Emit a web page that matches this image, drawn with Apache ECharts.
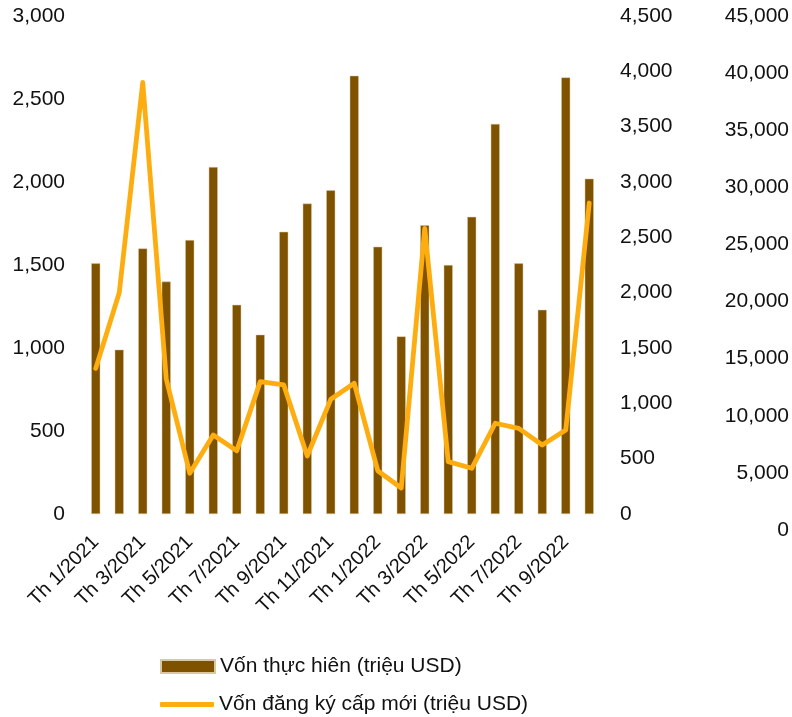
<!DOCTYPE html>
<html>
<head>
<meta charset="utf-8">
<script src="https://cdn.jsdelivr.net/npm/echarts@6/dist/echarts.min.js"></script>
<style>
html,body{margin:0;padding:0;background:#fff;}
#chart{width:792px;height:717px;}
</style>
</head>
<body>
<div id="chart"></div>
<script>
const categories = ['Th 1/2021','Th 2/2021','Th 3/2021','Th 4/2021','Th 5/2021','Th 6/2021','Th 7/2021','Th 8/2021','Th 9/2021','Th 10/2021','Th 11/2021','Th 12/2021',
  'Th 1/2022','Th 2/2022','Th 3/2022','Th 4/2022','Th 5/2022','Th 6/2022','Th 7/2022','Th 8/2022','Th 9/2022','Th 10/2022'];
const vonThucHien = [1510, 990, 1600, 1400, 1650, 2090, 1260, 1080, 1700, 1870, 1950, 2640,
  1610, 1070, 1740, 1500, 1790, 2350, 1510, 1230, 2630, 2020];
const vonDangKy = [1316, 2000, 3900, 1220, 368, 714, 572, 1196, 1166, 524, 1036, 1181,
  391, 235, 2580, 473, 413, 820, 774, 623, 759, 2810];
const seriesNames = ['Vốn thực hiên (triệu USD)', 'Vốn đăng ký cấp mới (triệu USD)'];

const FONT = "'Liberation Sans', Arial, sans-serif";
const chart = echarts.init(document.getElementById('chart'));
const numFmt = v => v.toLocaleString('en-US');
const legendText = { fontFamily: FONT, fontSize: 21, color: '#111' };

chart.setOption({
  animation: false,
  textStyle: { fontFamily: FONT, color: '#111' },
  grid: [
    { left: 84, right: 191, top: 16, bottom: 203 },
    { left: 84, right: 1, top: 16, bottom: 187 }
  ],
  legend: [
    {
      left: 160, top: 656, padding: 0, itemWidth: 54, itemHeight: 13, itemGap: 0,
      textStyle: legendText,
      data: [{ name: seriesNames[0], icon: 'rect' }]
    },
    {
      left: 160, top: 694, padding: 0, itemWidth: 54, itemHeight: 5, itemGap: 0,
      textStyle: legendText,
      data: [{ name: seriesNames[1], icon: 'roundRect', itemStyle: { color: '#FDAD0F' } }]
    }
  ],
  xAxis: [
    {
      type: 'category', gridIndex: 0, data: categories,
      axisLine: { show: false }, axisTick: { show: false },
      axisLabel: { interval: 1, rotate: 45, fontSize: 20, margin: 25, color: '#111', fontFamily: FONT }
    },
    { type: 'value', gridIndex: 1, show: false, min: 0, max: 1 }
  ],
  yAxis: [
    {
      type: 'value', gridIndex: 0, min: 0, max: 3000, interval: 500, position: 'left',
      splitLine: { show: false }, axisLine: { show: false }, axisTick: { show: false },
      axisLabel: { fontSize: 21, margin: 19, color: '#111', fontFamily: FONT, formatter: numFmt }
    },
    {
      type: 'value', gridIndex: 0, min: 0, max: 4500, interval: 500, position: 'right',
      splitLine: { show: false }, axisLine: { show: false }, axisTick: { show: false },
      axisLabel: { fontSize: 21, margin: 19, color: '#111', fontFamily: FONT, formatter: numFmt }
    },
    {
      type: 'value', gridIndex: 1, min: 0, max: 45000, interval: 5000, position: 'right',
      splitLine: { show: false }, axisLine: { show: false }, axisTick: { show: false },
      axisLabel: { fontSize: 21, margin: 0, align: 'right', color: '#111', fontFamily: FONT, formatter: numFmt }
    }
  ],
  series: [
    {
      name: seriesNames[0], type: 'bar', xAxisIndex: 0, yAxisIndex: 0,
      data: vonThucHien, barWidth: 9,
      itemStyle: { color: '#7F5200', borderColor: '#d9c8a0', borderWidth: 0.5 }
    },
    {
      name: seriesNames[1], type: 'line', xAxisIndex: 0, yAxisIndex: 1,
      data: vonDangKy, symbol: 'none', showSymbol: false,
      lineStyle: { color: '#FDAD0F', width: 4.8, cap: 'round', join: 'round' },
      itemStyle: { color: '#FDAD0F' }
    }
  ]
});
</script>
</body>
</html>
